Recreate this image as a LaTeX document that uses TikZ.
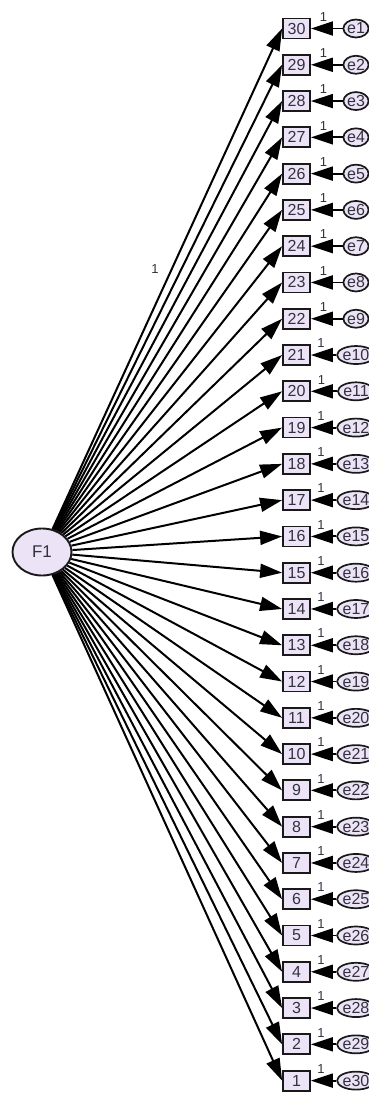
\documentclass[tikz,border=0pt]{standalone}
\usepackage{fontspec}
\setmainfont{Liberation Sans}
\usetikzlibrary{arrows.meta,shapes.geometric}
\definecolor{lav}{RGB}{236,228,246}
\definecolor{txt}{RGB}{50,50,62}
\tikzset{
  obs/.style={draw=black!90, line width=1.8pt, fill=lav, minimum width=27pt, minimum height=20pt, inner sep=0pt, font=\fontsize{16}{16}\selectfont, text=txt},
  err/.style={draw=black!90, line width=1.7pt, fill=lav, ellipse, minimum width=25pt, minimum height=18pt, inner sep=0pt, font=\fontsize{16}{16}\selectfont, text=txt},
  lat/.style={draw=black!90, line width=1.9pt, fill=lav, ellipse, minimum width=59pt, minimum height=47pt, inner sep=0pt, font=\fontsize{17}{17}\selectfont, text=txt},
  load/.style={line width=2pt, -{Triangle[length=22pt,width=14pt]}},
  eload/.style={line width=1.9pt, -{Triangle[length=22pt,width=14pt]}},
  one/.style={font=\fontsize{13}{13}\selectfont, text=txt},
}
\begin{document}
\begin{tikzpicture}[x=1pt,y=-1pt]
\useasboundingbox (0,0) rectangle (369,1095);
\node[lat] (F1) at (42,552) {F1};
\foreach \k in {1,...,30}{
  \pgfmathsetmacro{\yy}{28.5+(30-\k)*36.28}
  \pgfmathtruncatemacro{\ee}{31-\k}
  \node[obs] (b\k) at (296.5,\yy) {\k};
  \node[err] (e\k) at (356,\yy) {e\ee};
  \draw[eload] (e\k) -- node[one, above=3pt, pos=0.6] {1} (b\k);
}
\draw[load] (F1) -- node[one, pos=0.52, left=9pt] {1} (b30.west);
\foreach \k in {1,...,29}{
  \draw[load] (F1) -- (b\k.west);
}
\end{tikzpicture}
\end{document}
